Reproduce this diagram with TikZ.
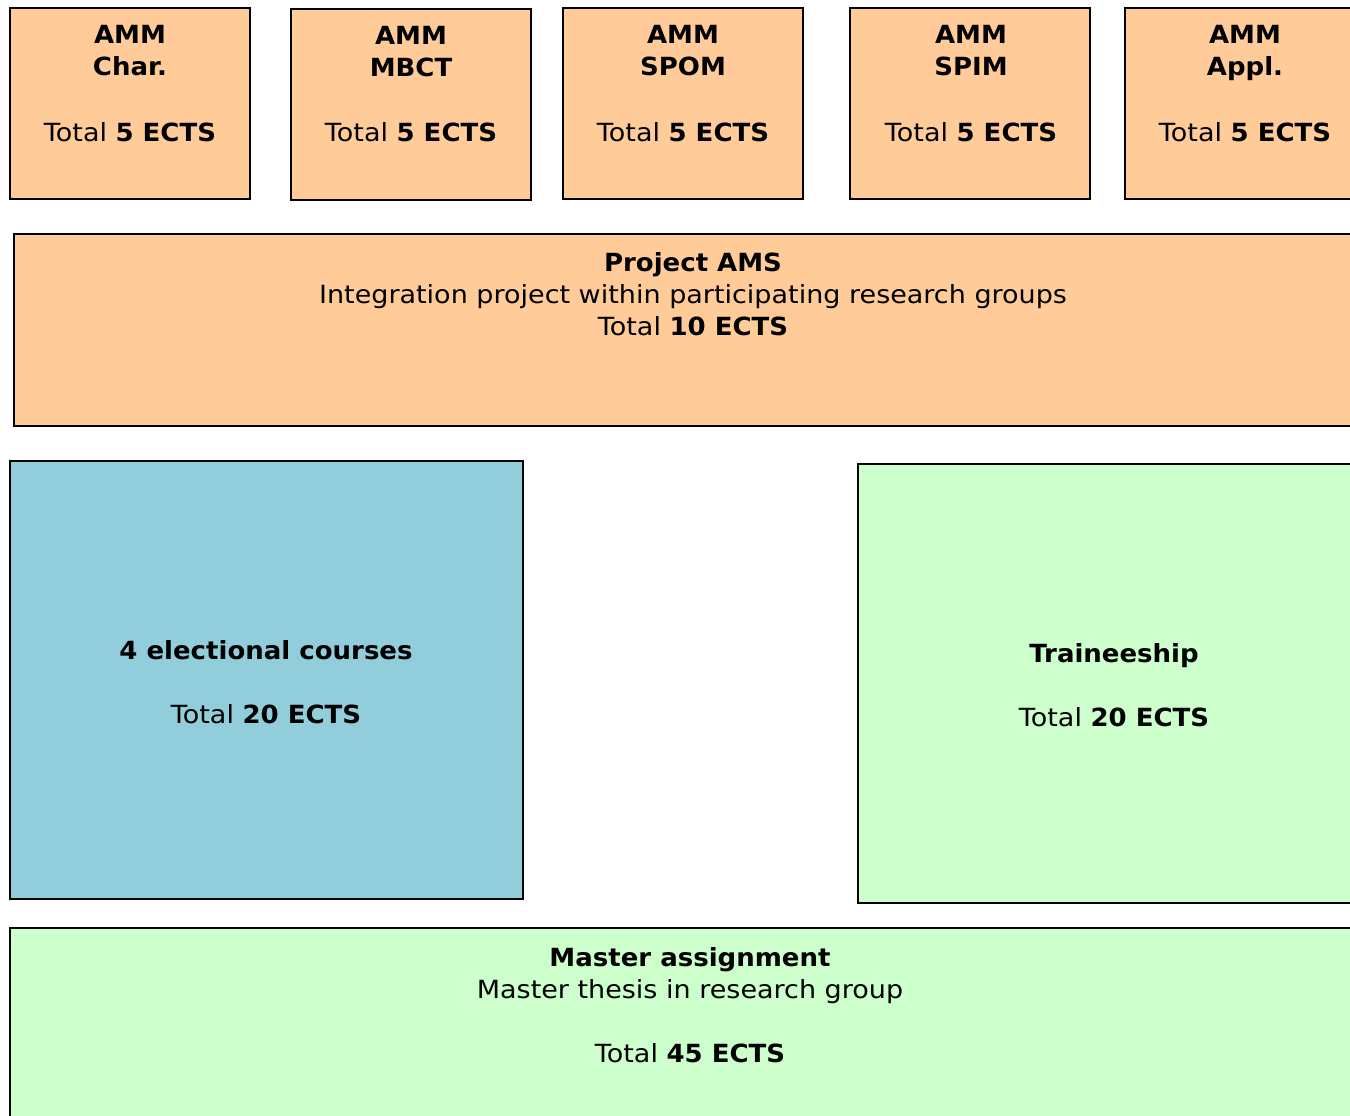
\documentclass[tikz,border=0pt]{standalone}
\usepackage{fontspec}
\setmainfont{DejaVu Sans}[FakeStretch=1.08, BoldFeatures={FakeStretch=1.04}]
\definecolor{orangefill}{HTML}{FFCC99}
\definecolor{bluefill}{HTML}{92CDDC}
\definecolor{greenfill}{HTML}{CCFFCC}
\begin{document}
\begin{tikzpicture}[x=1pt,y=-1pt,
  box/.style={draw=black, line width=1.5pt, rectangle, inner sep=0pt, outer sep=0pt, anchor=north west},
  obox/.style={box, fill=orangefill},
  bbox/.style={box, fill=bluefill},
  gbox/.style={box, fill=greenfill},
  tx/.style={anchor=base, inner sep=0pt, font=\fontsize{25}{30}\selectfont}
]
\useasboundingbox (0,0) rectangle (1350,1116);
\clip (0,0) rectangle (1350,1116);
% top course boxes
\node[obox, minimum width=240pt, minimum height=191pt] (char) at (10,8) {};
\node[obox, minimum width=240pt, minimum height=191pt] (mbct) at (291,9) {};
\node[obox, minimum width=240pt, minimum height=191pt] (spom) at (563,8) {};
\node[obox, minimum width=240pt, minimum height=191pt] (spim) at (850,8) {};
\node[obox, minimum width=240pt, minimum height=191pt] (appl) at (1125,8) {};
% project
\node[obox, minimum width=1358pt, minimum height=192pt] (proj) at (14,234) {};
% electional
\node[bbox, minimum width=513pt, minimum height=438pt] (elec) at (10,461) {};
% traineeship
\node[gbox, minimum width=512pt, minimum height=439pt] (train) at (858,464) {};
% master
\node[gbox, minimum width=1360pt, minimum height=260pt] (master) at (10,928) {};

% texts top boxes
\node[tx] (charA) at (130,44) {\textbf{AMM}};
\node[tx] (charB) at (130,76) {\textbf{Char.}};
\node[tx] (charC) at (130,141) {Total \textbf{5 ECTS}};
\node[tx] (mbctA) at (411,45) {\textbf{AMM}};
\node[tx] (mbctB) at (411,77) {\textbf{MBCT}};
\node[tx] (mbctC) at (411,141) {Total \textbf{5 ECTS}};
\node[tx] (spomA) at (683,44) {\textbf{AMM}};
\node[tx] (spomB) at (683,76) {\textbf{SPOM}};
\node[tx] (spomC) at (683,141) {Total \textbf{5 ECTS}};
\node[tx] (spimA) at (971,44) {\textbf{AMM}};
\node[tx] (spimB) at (971,76) {\textbf{SPIM}};
\node[tx] (spimC) at (971,141) {Total \textbf{5 ECTS}};
\node[tx] (applA) at (1245,44) {\textbf{AMM}};
\node[tx] (applB) at (1245,76) {\textbf{Appl.}};
\node[tx] (applC) at (1245,141) {Total \textbf{5 ECTS}};
% project texts
\node[tx] (projA) at (693,271) {\textbf{Project AMS}};
\node[tx] (projB) at (693,303) {Integration project within participating research groups};
\node[tx] (projC) at (693,335) {Total \textbf{10 ECTS}};
% electional texts
\node[tx] (elecA) at (266,659) {\textbf{4 electional courses}};
\node[tx] (elecB) at (266,723) {Total \textbf{20 ECTS}};
% traineeship texts
\node[tx] (trainA) at (1114,662) {\textbf{Traineeship}};
\node[tx] (trainB) at (1114,726) {Total \textbf{20 ECTS}};
% master texts
\node[tx] (masterA) at (690,966) {\textbf{Master assignment}};
\node[tx] (masterB) at (690,998) {Master thesis in research group};
\node[tx] (masterC) at (690,1062) {Total \textbf{45 ECTS}};
\end{tikzpicture}
\end{document}
